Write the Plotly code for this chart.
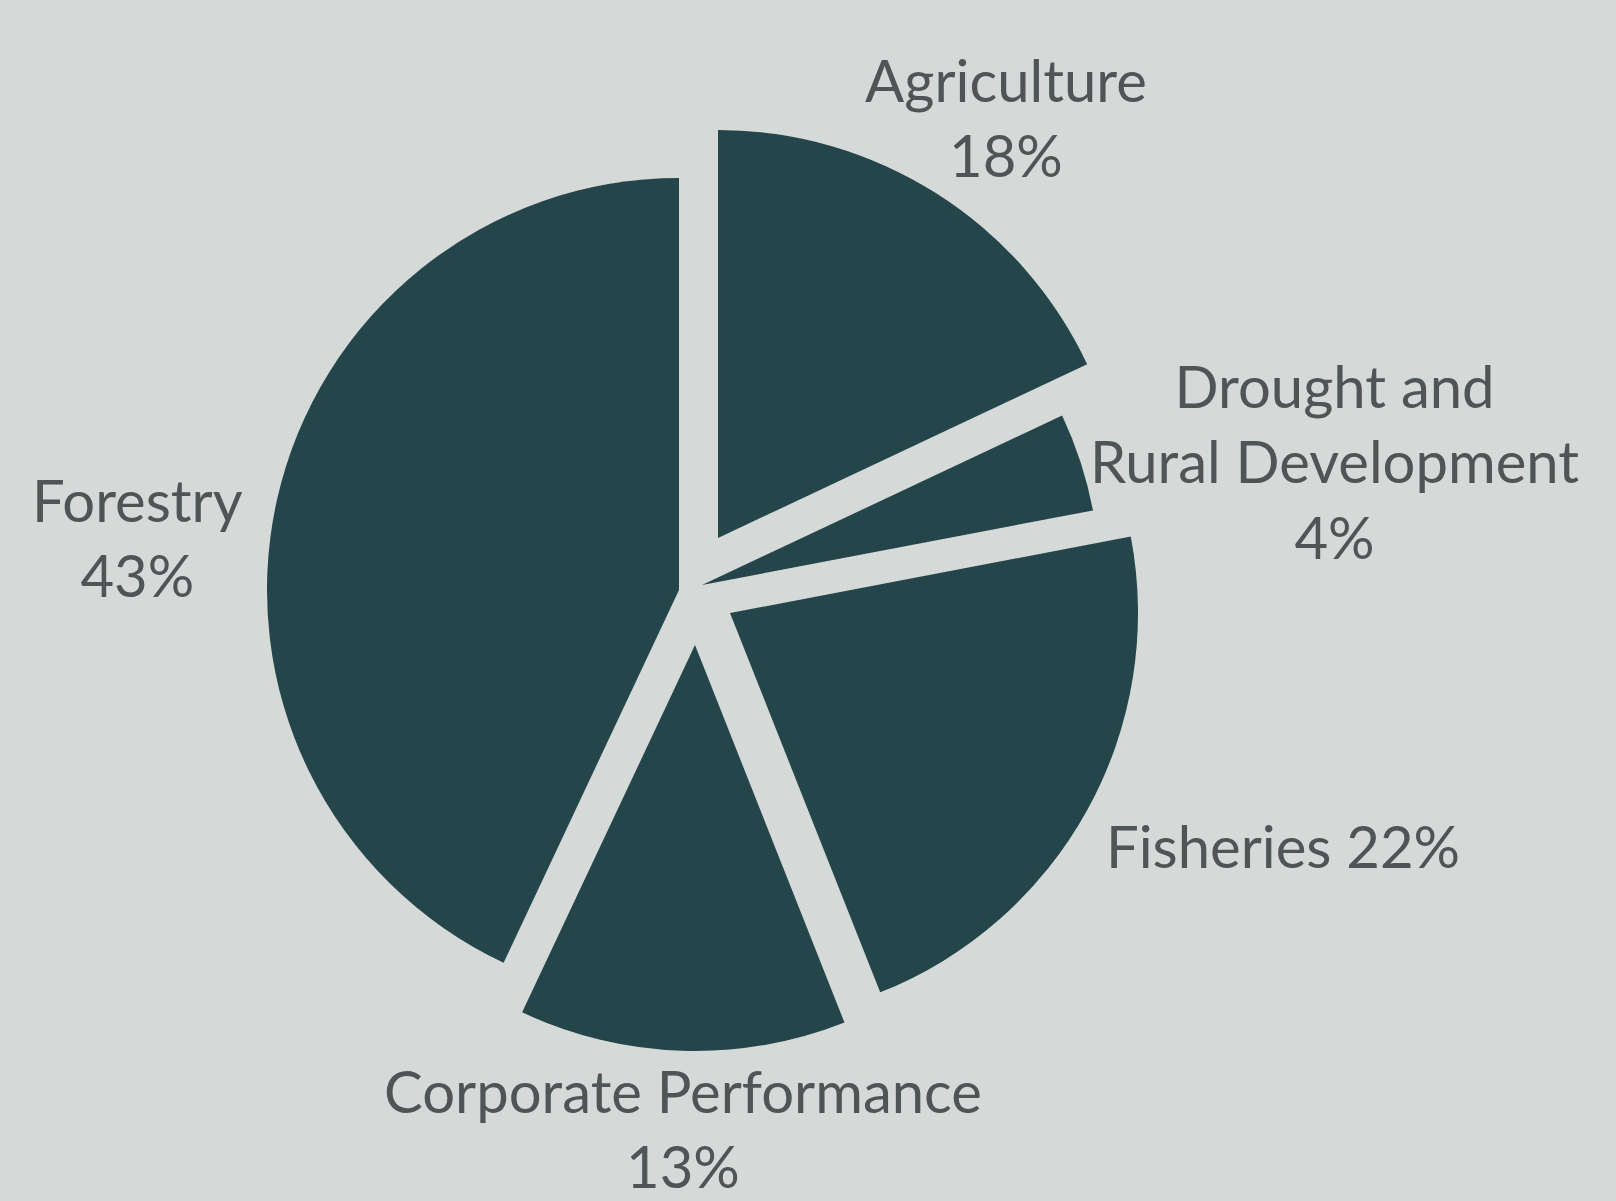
import plotly.graph_objects as go

# Budget shares by program area (percent), clockwise from 12 o'clock
sectors = ["Agriculture", "Drought and Rural Development", "Fisheries",
           "Corporate Performance", "Forestry"]
shares = [18, 4, 22, 13, 43]
# How each sector name is broken over lines in its label, and what joins it to the share
label_names = ["Agriculture", "Drought and<br>Rural Development", "Fisheries",
               "Corporate Performance", "Forestry"]
label_joins = ["<br>", "<br>", " ", "<br>", "<br>"]

W, H = 1616, 1201
BG = "#d5dad8"
SLICE = "#24454a"
TEXT = "#4f5556"
FONT = "Lato"

# Exploded layout: every wedge is drawn by its own pie, shifted so the tips
# sit slightly apart from each other (pixel tip positions and radii).
tips = [(718, 538), (702, 585), (730, 613), (695, 645), (679, 590)]
radii = [408, 398, 408, 406, 412]
# Label centres in pixels
label_pos = [(1006, 117), (1334, 461), (1283, 845), (683, 1128), (137, 537)]

fig = go.Figure()
for i, ((cx, cy), r) in enumerate(zip(tips, radii)):
    colors = [SLICE if j == i else "rgba(0,0,0,0)" for j in range(len(shares))]
    fig.add_trace(go.Pie(
        values=shares,
        labels=sectors,
        sort=False,
        direction="clockwise",
        rotation=0,
        marker=dict(colors=colors, line=dict(width=0)),
        textinfo="none",
        hoverinfo="label+percent",
        showlegend=False,
        domain=dict(x=[(cx - r) / W, (cx + r) / W],
                    y=[1 - (cy + r) / H, 1 - (cy - r) / H]),
    ))

for name, join, share, (lx, ly) in zip(label_names, label_joins, shares, label_pos):
    fig.add_annotation(
        x=lx / W, y=1 - ly / H, xref="paper", yref="paper",
        xanchor="center", yanchor="middle",
        text=f"{name}{join}{share}%",
        showarrow=False, align="center",
        font=dict(family=FONT, size=58, color=TEXT),
    )

fig.update_layout(
    width=W, height=H,
    margin=dict(l=0, r=0, t=0, b=0),
    paper_bgcolor=BG, plot_bgcolor=BG,
    showlegend=False,
)

fig.write_html("out.html")
